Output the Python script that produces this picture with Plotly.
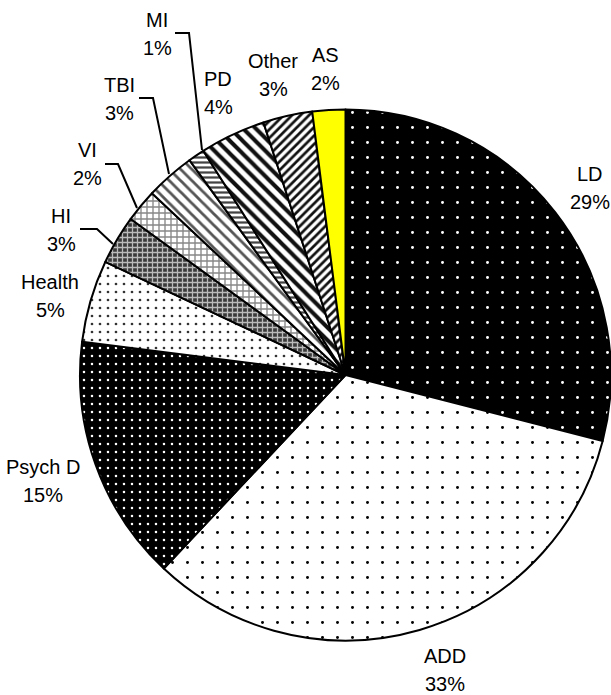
import plotly.graph_objects as go

labels = ["LD", "ADD", "Psych D", "Health", "HI", "VI", "TBI", "MI", "PD", "Other", "AS"]
values = [29, 33, 15, 5, 3, 2, 3, 1, 4, 3, 2]

W, H = 611, 695

bg_colors = ["#000000", "#ffffff", "#000000", "#ffffff", "#3a3a3a", "#ffffff",
             "#ffffff", "#ffffff", "#ffffff", "#ffffff", "#ffff00"]
shapes_p = [".", ".", ".", ".", "+", "+", "\\", "-", "\\", "/", ""]
fg_colors = ["#ffffff", "#000000", "#ffffff", "#333333", "#bbbbbb", "#888888",
             "#555555", "#444444", "#111111", "#111111", "#ffff00"]
sizes = [15, 15, 8, 8, 5, 6, 8, 5, 9, 6, 8]
solid = [0.03, 0.03, 0.08, 0.09, 0.45, 0.4, 0.35, 0.45, 0.45, 0.45, 0.3]

fig = go.Figure(go.Pie(
    labels=labels,
    values=values,
    sort=False,
    direction="clockwise",
    rotation=0,
    textinfo="none",
    hoverinfo="label+percent",
    domain=dict(x=[80 / W, 1.0], y=[54 / H, 586 / H]),
    marker=dict(
        colors=bg_colors,
        line=dict(color="#000000", width=2),
        pattern=dict(shape=shapes_p, fgcolor=fg_colors, bgcolor=bg_colors,
                     size=sizes, solidity=solid, fillmode="replace"),
    ),
    showlegend=False,
))

# label centre positions in pixels (x, y from top)
label_pos = {
    "LD": (590, 188), "ADD": (445, 670), "Psych D": (43, 481), "Health": (50, 296),
    "HI": (61, 230), "VI": (87, 164), "TBI": (120, 99), "MI": (157, 34),
    "PD": (218, 93), "Other": (273, 75), "AS": (325, 69),
}
total = sum(values)
font = dict(family="Liberation Sans, Arial, sans-serif", size=20, color="#000000")
annotations = []
for lab, v in zip(labels, values):
    px, py = label_pos[lab]
    for txt, dy in ((lab, -14), (f"{round(100 * v / total)}%", 14)):
        annotations.append(dict(
            x=px / W, y=1 - (py + dy) / H, xref="paper", yref="paper",
            text=txt, showarrow=False, font=font,
            xanchor="center", yanchor="middle",
        ))

leaders = [
    [(80, 229), (97, 229), (113, 244)],
    [(105, 164), (118, 164), (137, 208)],
    [(139, 98), (153, 98), (169, 174)],
    [(175, 33), (189, 33), (202, 150)],
]
shapes = []
for pts in leaders:
    path = "M " + " L ".join(f"{x / W} {1 - y / H}" for x, y in pts)
    shapes.append(dict(type="path", xref="paper", yref="paper", path=path,
                       line=dict(color="#000000", width=2)))

fig.update_layout(
    width=W, height=H,
    margin=dict(l=0, r=0, t=0, b=0),
    paper_bgcolor="#ffffff", plot_bgcolor="#ffffff",
    annotations=annotations, shapes=shapes,
)

fig.write_html("out.html", config={"displayModeBar": False},
               post_script="document.body.style.margin='0px';")
